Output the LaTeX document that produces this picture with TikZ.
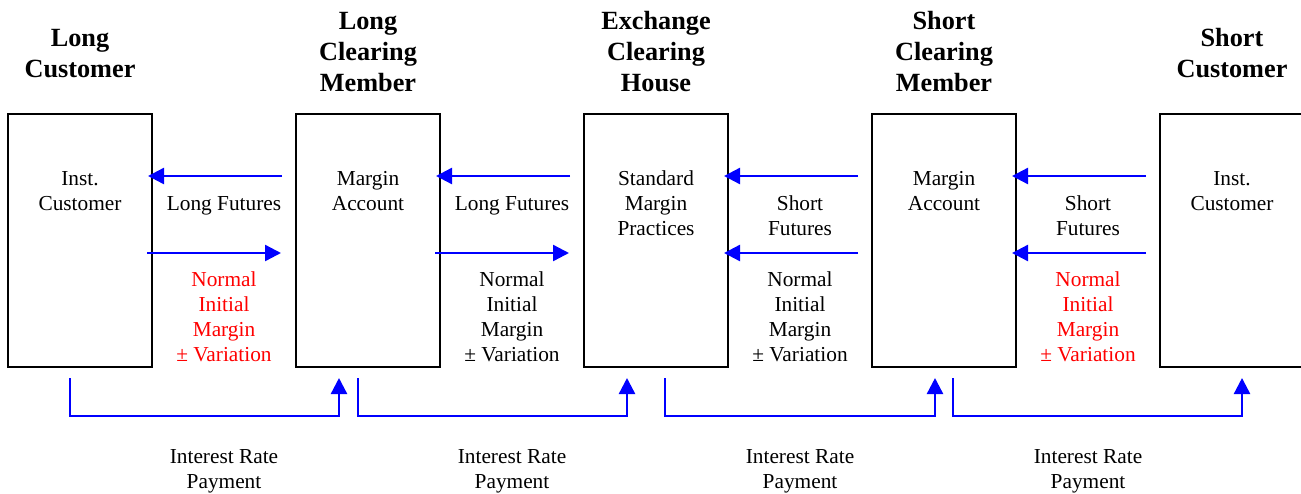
\documentclass[tikz,border=0pt]{standalone}
\usepackage{fontspec}
\setmainfont{Liberation Serif}
\usetikzlibrary{arrows.meta,calc}
\definecolor{flowblue}{RGB}{0,0,255}
\definecolor{notered}{RGB}{255,0,0}
\tikzset{
  party/.style={draw=black, line width=1.5pt, minimum width=108pt, minimum height=189.75pt, inner sep=0pt},
  flow/.style={draw=flowblue, line width=1.8pt, -{Triangle[length=12pt,width=12pt]}},
  title/.style={font=\bfseries\fontsize{19.7}{23.25}\selectfont, align=center, inner sep=0pt, anchor=base},
  txt/.style={font=\fontsize{16}{18.75}\selectfont, align=center, inner sep=0pt, anchor=base},
  redtxt/.style={txt, text=notered},
}
\begin{document}
\begin{tikzpicture}[x=0.75pt,y=-0.75pt]
\useasboundingbox (0,0) rectangle (1301,493);
% boxes
\node[party] (b1) at (80,240.5) {};
\node[party] (b2) at (368,240.5) {};
\node[party] (b3) at (656,240.5) {};
\node[party] (b4) at (944,240.5) {};
\node[party] (b5) at (1232,240.5) {};
% titles (anchored at the baseline of the last line)
\node[title] (t1) at (80,77) {Long\\Customer};
\node[title] (t2) at (368,91) {Long\\Clearing\\Member};
\node[title] (t3) at (656,91) {Exchange\\Clearing\\House};
\node[title] (t4) at (944,91) {Short\\Clearing\\Member};
\node[title] (t5) at (1232,77) {Short\\Customer};
% box texts
\node[txt] (i1) at (80,210) {Inst.\\Customer};
\node[txt] (i2) at (368,210) {Margin\\Account};
\node[txt] (i3) at (656,235) {Standard\\Margin\\Practices};
\node[txt] (i4) at (944,210) {Margin\\Account};
\node[txt] (i5) at (1232,210) {Inst.\\Customer};
% gap labels
\node[txt] (f1) at (224,210) {Long Futures};
\node[txt] (f2) at (512,210) {Long Futures};
\node[txt] (f3) at (800,235) {Short\\Futures};
\node[txt] (f4) at (1088,235) {Short\\Futures};
\node[redtxt] (m1) at (224,361) {Normal\\Initial\\Margin\\± Variation};
\node[txt] (m2) at (512,361) {Normal\\Initial\\Margin\\± Variation};
\node[txt] (m3) at (800,361) {Normal\\Initial\\Margin\\± Variation};
\node[redtxt] (m4) at (1088,361) {Normal\\Initial\\Margin\\± Variation};
% interest labels
\node[txt] (p1) at (224,488) {Interest Rate\\Payment};
\node[txt] (p2) at (512,488) {Interest Rate\\Payment};
\node[txt] (p3) at (800,488) {Interest Rate\\Payment};
\node[txt] (p4) at (1088,488) {Interest Rate\\Payment};
% horizontal flows
\draw[flow] ($(b2.west |- 0,176)+(-13,0)$) -- ($(b1.east |- 0,176)+(-5,0)$);
\draw[flow] ($(b1.east |- 0,253)+(-6,0)$) -- ($(b2.west |- 0,253)+(-14,0)$);
\draw[flow] ($(b3.west |- 0,176)+(-13,0)$) -- ($(b2.east |- 0,176)+(-5,0)$);
\draw[flow] ($(b2.east |- 0,253)+(-6,0)$) -- ($(b3.west |- 0,253)+(-14,0)$);
\draw[flow] ($(b4.west |- 0,176)+(-13,0)$) -- ($(b3.east |- 0,176)+(-5,0)$);
\draw[flow] ($(b4.west |- 0,253)+(-13,0)$) -- ($(b3.east |- 0,253)+(-5,0)$);
\draw[flow] ($(b5.west |- 0,176)+(-13,0)$) -- ($(b4.east |- 0,176)+(-5,0)$);
\draw[flow] ($(b5.west |- 0,253)+(-13,0)$) -- ($(b4.east |- 0,253)+(-5,0)$);
% interest rate payment connectors
\draw[flow] ($(b1.south)+(-10,10)$) |- ($(b2.south)+(-29,48)$) -- ($(b2.south)+(-29,10)$);
\draw[flow] ($(b2.south)+(-10,10)$) |- ($(b3.south)+(-29,48)$) -- ($(b3.south)+(-29,10)$);
\draw[flow] ($(b3.south)+(9,10)$) |- ($(b4.south)+(-9,48)$) -- ($(b4.south)+(-9,10)$);
\draw[flow] ($(b4.south)+(9,10)$) |- ($(b5.south)+(10,48)$) -- ($(b5.south)+(10,10)$);
\end{tikzpicture}
\end{document}
